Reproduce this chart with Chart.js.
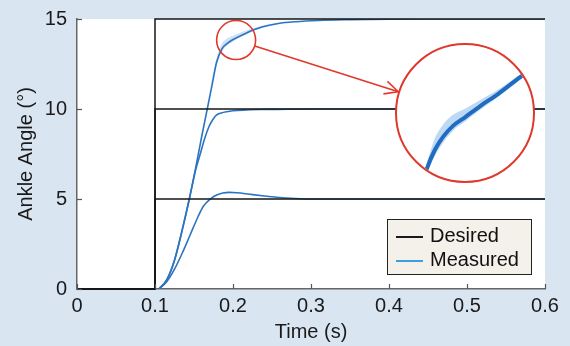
<!DOCTYPE html>
<html>
<head>
<meta charset="utf-8">
<script src="https://cdn.jsdelivr.net/npm/chart.js@4/dist/chart.umd.min.js"></script>
<style>
  html, body { margin: 0; padding: 0; background: #dae5f2; }
  #wrap { position: relative; width: 570px; height: 346px; font-family: 'Liberation Sans', Arial, sans-serif; }
  #inset {
    position: absolute; left: 395px; top: 43px;
    width: 136px; height: 136px;
    border: 2px solid #e0382c; border-radius: 50%;
    background: #fff; overflow: hidden;
  }
  #legend {
    position: absolute; left: 387px; top: 219px;
    width: 143px; height: 54px;
    background: #f4f0ea; border: 1px solid #222;
    font-size: 20px; color: #111;
  }
  .row { position: absolute; left: 8px; height: 24px; line-height: 24px; }
  .row span.swatch { display: inline-block; width: 27px; height: 0; border-top: 2px solid; vertical-align: middle; margin-right: 7px; }
</style>
</head>
<body>
<div id="wrap">
  <canvas id="mainChart" width="570" height="346"></canvas>
  <div id="inset"><canvas id="insetChart" width="136" height="136"></canvas></div>
  <div id="legend">
    <div class="row" style="top:3px"><span class="swatch" style="border-color:#1a1a1a"></span>Desired</div>
    <div class="row" style="top:27px"><span class="swatch" style="border-color:#3d9ee0"></span>Measured</div>
  </div>
</div>
<script>
// Desired step commands
const desiredTime = [0, 0.1, 0.1, 0.6];
const desired5    = [0, 0, 5, 5];
const desired10   = [0, 0, 10, 10];
const desired15   = [0, 0, 15, 15];

const m15Time  = [0.105, 0.115, 0.125, 0.135, 0.144, 0.152, 0.16, 0.167, 0.173, 0.179, 0.186, 0.192, 0.199, 0.216, 0.237, 0.258, 0.28, 0.31, 0.35, 0.4, 0.45, 0.6];
const m15Angle = [0, 0.5, 1.6, 3.3, 5.0, 6.7, 8.5, 10.0, 11.3, 12.6, 13.35, 13.62, 13.83, 14.2, 14.55, 14.75, 14.85, 14.92, 14.96, 14.99, 15, 15];

const m10Time  = [0.105, 0.115, 0.125, 0.135, 0.144, 0.152, 0.158, 0.164, 0.169, 0.174, 0.179, 0.185, 0.192, 0.2, 0.213, 0.235, 0.256, 0.3, 0.6];
const m10Angle = [0, 0.5, 1.6, 3.3, 5.0, 6.6, 7.5, 8.4, 9.0, 9.4, 9.67, 9.78, 9.85, 9.9, 9.94, 9.97, 9.98, 10, 10];

const m5Time  = [0.105, 0.115, 0.125, 0.135, 0.145, 0.155, 0.162, 0.171, 0.179, 0.187, 0.195, 0.205, 0.222, 0.24, 0.256, 0.28, 0.3, 0.6];
const m5Angle = [0, 0.4, 1.1, 2.0, 3.0, 4.0, 4.6, 5.0, 5.22, 5.33, 5.37, 5.35, 5.26, 5.17, 5.1, 5.03, 5.0, 5];

// spread band around the 15 deg response
const band15Time  = [0.17, 0.179, 0.186, 0.192, 0.199, 0.216, 0.237, 0.258];
const band15Upper = [11.0, 12.85, 13.65, 13.9, 14.05, 14.35, 14.63, 14.78];
const band15Lower = [11.0, 12.45, 13.2, 13.5, 13.72, 14.12, 14.5, 14.72];

// zoomed inset (15 deg response around the knee)
const insetTime  = [0.1880, 0.1895, 0.1925, 0.1956, 0.1994, 0.2040, 0.2097, 0.2166, 0.2243, 0.2275];
const insetMean  = [12.72, 12.93, 13.23, 13.44, 13.62, 13.76, 13.94, 14.14, 14.39, 14.49];
const insetUpper = [12.78, 13.02, 13.42, 13.64, 13.80, 13.90, 14.04, 14.21, 14.44, 14.53];
const insetLower = [12.67, 12.87, 13.13, 13.34, 13.54, 13.69, 13.88, 14.09, 14.35, 14.45];

const xTicks = [0, 0.1, 0.2, 0.3, 0.4, 0.5, 0.6];
const yTicks = [0, 5, 10, 15];

const zoomCenter = { t: 0.204, a: 13.83 };
const zoomRadius = 19.5;
const insetCenter = { x: 465, y: 113 };
const insetRadius = 69;

const FONT = "'Liberation Sans', Arial, sans-serif";
const MEASURED = '#2d74bf';
const DESIRED  = '#161616';

function pts(xs, ys) {
  return xs.map((x, i) => ({ x: x, y: ys[i] }));
}

function stepLine(ys) {
  return {
    data: pts(desiredTime, ys),
    borderColor: DESIRED, borderWidth: 1.5,
    pointRadius: 0, tension: 0, clip: false,
  };
}

function responseLine(xs, ys) {
  return {
    data: pts(xs, ys),
    borderColor: MEASURED, borderWidth: 1.6,
    pointRadius: 0, cubicInterpolationMode: 'monotone',
  };
}

const bgPlugin = {
  id: 'bg',
  beforeDraw(chart) {
    const { ctx, chartArea: a } = chart;
    ctx.save();
    ctx.fillStyle = '#dae5f2';
    ctx.fillRect(0, 0, chart.width, chart.height);
    ctx.fillStyle = '#ffffff';
    ctx.fillRect(a.left, a.top, a.right - a.left, a.bottom - a.top);
    ctx.restore();
  },
};

// inward tick marks, zoom circle and arrow
const decoPlugin = {
  id: 'deco',
  afterDatasetsDraw(chart) {
    const { ctx, chartArea: a, scales: { x, y } } = chart;
    ctx.save();
    ctx.strokeStyle = '#555';
    ctx.lineWidth = 1.2;
    xTicks.forEach(v => {
      const px = Math.round(x.getPixelForValue(v)) + 0.5;
      ctx.beginPath(); ctx.moveTo(px, a.bottom); ctx.lineTo(px, a.bottom - 5); ctx.stroke();
    });
    yTicks.forEach(v => {
      const py = Math.round(y.getPixelForValue(v)) + 0.5;
      ctx.beginPath(); ctx.moveTo(a.left, py); ctx.lineTo(a.left + 5, py); ctx.stroke();
    });

    const cx = x.getPixelForValue(zoomCenter.t);
    const cy = y.getPixelForValue(zoomCenter.a);
    ctx.strokeStyle = '#e0382c';
    ctx.lineWidth = 1.6;
    ctx.beginPath(); ctx.arc(cx, cy, zoomRadius, 0, Math.PI * 2); ctx.stroke();

    const dx = insetCenter.x - cx, dy = insetCenter.y - cy;
    const len = Math.hypot(dx, dy);
    const ux = dx / len, uy = dy / len;
    const sx = cx + ux * zoomRadius, sy = cy + uy * zoomRadius;
    const ex = insetCenter.x - ux * (insetRadius + 1), ey = insetCenter.y - uy * (insetRadius + 1);
    ctx.beginPath(); ctx.moveTo(sx, sy); ctx.lineTo(ex, ey); ctx.stroke();
    const ang = Math.atan2(uy, ux);
    [0.45, -0.45].forEach(d => {
      ctx.beginPath();
      ctx.moveTo(ex, ey);
      ctx.lineTo(ex - 15 * Math.cos(ang + d), ey - 15 * Math.sin(ang + d));
      ctx.stroke();
    });
    ctx.restore();
  },
};

new Chart(document.getElementById('mainChart'), {
  type: 'line',
  data: {
    datasets: [
      stepLine(desired15),
      stepLine(desired10),
      stepLine(desired5),
      responseLine(m15Time, m15Angle),
      responseLine(m10Time, m10Angle),
      responseLine(m5Time, m5Angle),
      { data: pts(band15Time, band15Upper), borderWidth: 0, pointRadius: 0, fill: '+1',
        backgroundColor: 'rgba(120,175,230,0.35)', cubicInterpolationMode: 'monotone' },
      { data: pts(band15Time, band15Lower), borderWidth: 0, pointRadius: 0, fill: false,
        cubicInterpolationMode: 'monotone' },
    ],
  },
  options: {
    responsive: false,
    animation: false,
    layout: { padding: { left: 0, right: 25, top: 19, bottom: 0 } },
    plugins: { legend: { display: false }, tooltip: { enabled: false } },
    scales: {
      x: {
        type: 'linear', min: 0, max: 0.6,
        afterFit: s => { s.height = 57; s.paddingLeft = 0; s.paddingRight = 0; },
        afterBuildTicks: s => { s.ticks = xTicks.map(v => ({ value: v })); },
        grid: { display: false, drawTicks: false },
        border: { display: true, color: '#666', width: 1.5 },
        ticks: {
          padding: 5, color: '#1a1a1a', font: { family: FONT, size: 20 },
          maxRotation: 0, autoSkip: false,
          callback: v => String(+v.toFixed(1)),
        },
        title: { display: true, text: 'Time (s)', color: '#1a1a1a',
          font: { family: FONT, size: 20 }, padding: { top: 0, bottom: 2 } },
      },
      y: {
        type: 'linear', min: 0, max: 15,
        afterFit: s => { s.width = 77; s.paddingTop = 0; s.paddingBottom = 0; },
        afterBuildTicks: s => { s.ticks = yTicks.map(v => ({ value: v })); },
        grid: { display: false, drawTicks: false },
        border: { display: true, color: '#666', width: 1.5 },
        ticks: { padding: 10, color: '#1a1a1a', font: { family: FONT, size: 20 } },
        title: { display: true, text: 'Ankle Angle (°)', color: '#1a1a1a',
          font: { family: FONT, size: 20 }, padding: { top: 14, bottom: 0 } },
      },
    },
  },
  plugins: [bgPlugin, decoPlugin],
});

new Chart(document.getElementById('insetChart'), {
  type: 'line',
  data: {
    datasets: [
      { data: pts(insetTime, insetMean), borderColor: '#1f6cc0', borderWidth: 4,
        pointRadius: 0, cubicInterpolationMode: 'monotone' },
      { data: pts(insetTime, insetUpper), borderWidth: 0, pointRadius: 0, fill: '+1',
        backgroundColor: 'rgba(110,170,228,0.45)', cubicInterpolationMode: 'monotone' },
      { data: pts(insetTime, insetLower), borderWidth: 0, pointRadius: 0, fill: false,
        cubicInterpolationMode: 'monotone' },
    ],
  },
  options: {
    responsive: false,
    animation: false,
    layout: { padding: 0 },
    plugins: { legend: { display: false }, tooltip: { enabled: false } },
    scales: {
      x: { type: 'linear', display: false, min: 0.178, max: 0.230 },
      y: { type: 'linear', display: false, min: 12.72, max: 14.94 },
    },
  },
});
</script>
</body>
</html>
